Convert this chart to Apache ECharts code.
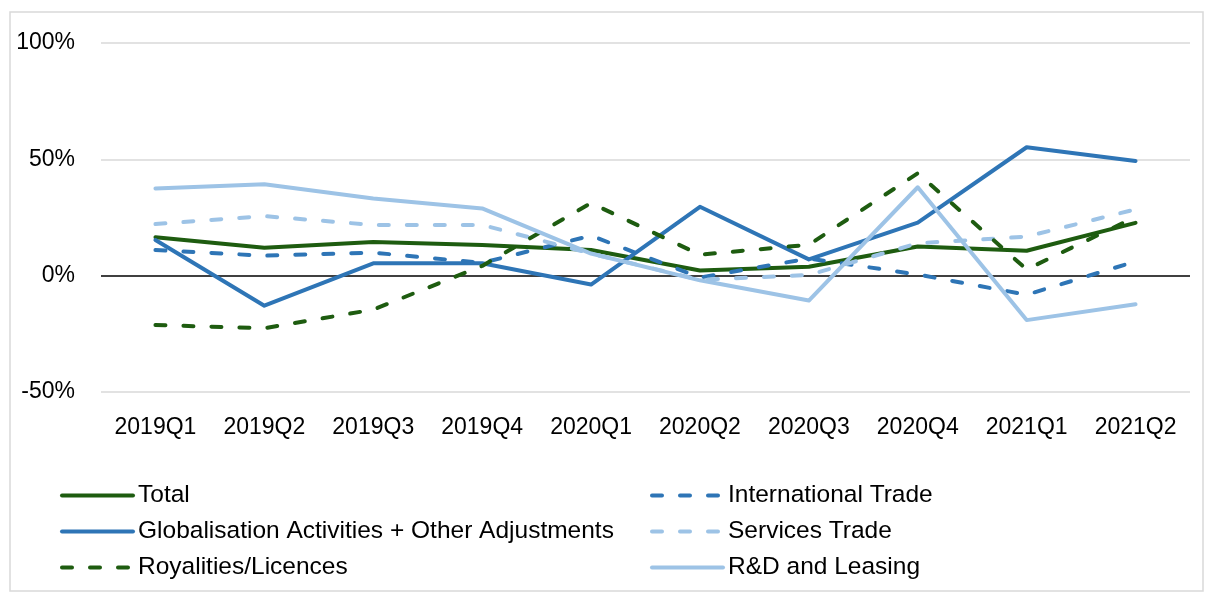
<!DOCTYPE html>
<html>
<head>
<meta charset="utf-8">
<script src="https://cdn.jsdelivr.net/npm/echarts@6/dist/echarts.min.js"></script>
<style>
  html, body { margin: 0; padding: 0; background: #fff; }
  #chart { width: 1213px; height: 594px; }
</style>
</head>
<body>
<div id="chart"></div>
<script>
const quarters = ['2019Q1', '2019Q2', '2019Q3', '2019Q4', '2020Q1', '2020Q2', '2020Q3', '2020Q4', '2021Q1', '2021Q2']

// growth, %
const total = [16.5, 12.0, 14.5, 13.2, 11.0, 2.2, 3.8, 12.5, 10.7, 22.7]
const internationalTrade = [11.0, 8.6, 9.9, 5.5, 17.2, -0.8, 7.4, 0.5, -8.2, 6.1]
const globalisation = [15.3, -12.9, 5.3, 5.3, -3.8, 29.6, 7.0, 22.8, 55.2, 49.3]
const servicesTrade = [22.2, 25.6, 21.8, 21.8, 9.5, -1.8, 0.3, 13.9, 16.8, 28.5]
const royalties = [-21.2, -22.6, -14.6, 4.2, 31.2, 9.0, 13.3, 44.0, 2.7, 25.2]
const rdLeasing = [37.5, 39.3, 33.2, 28.9, 9.5, -2.0, -10.7, 38.0, -19.1, -12.3]

const yTicks = [-50, 0, 50, 100]

const darkGreen = '#1e5c10'
const blue = '#2e75b6'
const lightBlue = '#9dc3e6'
const font = "'Liberation Sans', Arial, sans-serif"

const chart = echarts.init(document.getElementById('chart'), null, { renderer: 'canvas' })

function line(name, data, color, dashed) {
  return {
    name: name,
    type: 'line',
    data: data,
    symbol: 'none',
    showSymbol: false,
    animation: false,
    color: color,
    lineStyle: {
      color: color,
      width: 4,
      type: dashed ? [10, 18] : 'solid',
      cap: 'round',
      join: 'round'
    }
  }
}

const legendCommon = {
  orient: 'vertical',
  top: 483,
  padding: 0,
  itemWidth: 71,
  itemHeight: 24,
  itemGap: 11,
  itemStyle: { opacity: 0, borderWidth: 0 },
  lineStyle: { width: 4 },
  textStyle: { fontFamily: font, fontSize: 24.5, color: '#000', lineHeight: 24 }
}

const option = {
  animation: false,
  backgroundColor: '#fff',
  graphic: [{
    type: 'rect',
    shape: { x: 10, y: 12, width: 1193, height: 579 },
    style: { fill: 'none', stroke: '#d9d9d9', lineWidth: 1.5 },
    silent: true,
    z: -1
  }],
  grid: { left: 101, right: 23, top: 43, bottom: 202 },
  legend: [
    Object.assign({}, legendCommon, {
      left: 60,
      data: ['Total', 'Globalisation Activities + Other Adjustments', 'Royalities/Licences']
    }),
    Object.assign({}, legendCommon, {
      left: 650,
      data: ['International Trade', 'Services Trade', 'R&D and Leasing']
    })
  ],
  xAxis: {
    type: 'category',
    data: quarters,
    boundaryGap: true,
    axisLine: { show: false, onZero: false },
    axisTick: { show: false },
    axisLabel: { fontFamily: font, fontSize: 23, color: '#000', margin: 24 }
  },
  yAxis: {
    type: 'value',
    min: yTicks[0],
    max: yTicks[yTicks.length - 1],
    interval: 50,
    axisLine: { show: false },
    axisTick: { show: false },
    axisLabel: { fontFamily: font, fontSize: 23, color: '#000', margin: 26, formatter: '{value}%' },
    splitLine: { lineStyle: { color: ['#d9d9d9', '#000000', '#d9d9d9', '#d9d9d9'], width: 1.5 } }
  },
  series: [
    line('Total', total, darkGreen, false),
    line('International Trade', internationalTrade, blue, true),
    line('Globalisation Activities + Other Adjustments', globalisation, blue, false),
    line('Services Trade', servicesTrade, lightBlue, true),
    line('Royalities/Licences', royalties, darkGreen, true),
    line('R&D and Leasing', rdLeasing, lightBlue, false)
  ]
}

chart.setOption(option)
</script>
</body>
</html>
